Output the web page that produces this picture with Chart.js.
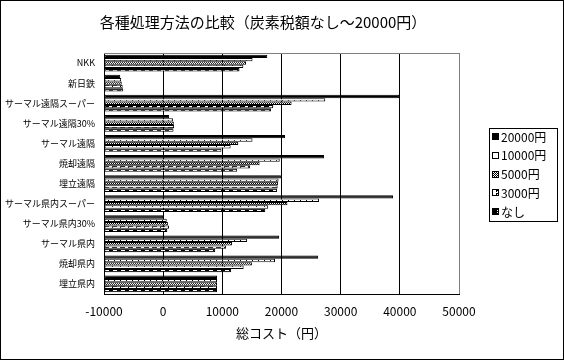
<!DOCTYPE html>
<html>
<head>
<meta charset="utf-8">
<script src="https://cdn.jsdelivr.net/npm/chart.js@4/dist/chart.umd.min.js"></script>
<style>
  html, body { margin: 0; padding: 0; background: #fff; }
  canvas { display: block; }
</style>
</head>
<body>
<canvas id="costChart" width="564" height="360"></canvas>
<script>
    const categories = ['NKK', '新日鉄', 'サーマル遠隔スーパー', 'サーマル遠隔30%', 'サーマル遠隔', '焼却遠隔', '埋立遠隔',
      'サーマル県内スーパー', 'サーマル県内30%', 'サーマル県内', '焼却県内', '埋立県内'];
    const seriesNames = ['20000円', '10000円', '5000円', '3000円', 'なし'];
    const tax20000 = [17600, -7250, 39900, 1000, 20600, 27200, 19900, 38850, 0, 19600, 26200, 9100];
    const tax10000 = [15100, -7100, 27400, 1650, 15100, 19700, 19500, 26350, 600, 14200, 18900, 9100];
    const tax5000 = [14000, -7000, 21700, 1800, 12700, 16300, 19400, 21000, 800, 11650, 15000, 9100];
    const tax3000 = [13550, -6850, 18600, 1850, 11400, 14700, 19350, 17750, 1000, 10650, 13600, 9100];
    const taxNone = [12900, -6750, 18250, 1750, 9850, 12500, 19250, 17250, 700, 8800, 11500, 9100];
    const xTicks = [-10000, 0, 10000, 20000, 30000, 40000, 50000];

    const jpFont = '"Noto Sans CJK JP", "DejaVu Sans", sans-serif';

    // small bitmap-like fills, like the old Excel patterns
    function makePattern(w, h, bg, fg, pixels) {
      const c = document.createElement('canvas');
      c.width = w; c.height = h;
      const g = c.getContext('2d');
      g.fillStyle = bg;
      g.fillRect(0, 0, w, h);
      g.fillStyle = fg;
      pixels.forEach(p => g.fillRect(p[0], p[1], p[2], p[3]));
      return g.createPattern(c, 'repeat');
    }

    const fills = [
      '#000000',
      makePattern(6, 2, '#ffffff', '#000000', [[0, 0, 1, 1]]),
      makePattern(2, 2, '#ffffff', '#000000', [[0, 0, 1, 1], [1, 1, 1, 1]]),
      makePattern(8, 3, '#ffffff', '#000000', [[0, 1, 5, 1], [0, 2, 1, 1]]),
      makePattern(8, 2, '#000000', '#ffffff', [[1, 0, 4, 1]])
    ];
    const seriesData = [tax20000, tax10000, tax5000, tax3000, taxNone];

    const frame = {
      id: 'frame',
      beforeDraw(chart) {
        const ctx = chart.ctx;
        ctx.save();
        ctx.fillStyle = '#ffffff';
        ctx.fillRect(0, 0, chart.width, chart.height);
        ctx.restore();
      },
      afterDraw(chart) {
        const ctx = chart.ctx;
        const a = chart.chartArea;
        ctx.save();
        ctx.lineWidth = 1;
        ctx.strokeStyle = '#808080';
        ctx.beginPath();
        ctx.moveTo(a.left, a.top + 0.5);
        ctx.lineTo(a.right, a.top + 0.5);
        ctx.stroke();
        ctx.strokeStyle = '#000000';
        ctx.strokeRect(0.5, 0.5, chart.width - 1, chart.height - 1);

        // legend box
        const lx = 489, ly = 128, lw = 68, lh = 93;
        ctx.strokeRect(lx + 0.5, ly + 0.5, lw, lh);
        ctx.font = '12px ' + jpFont;
        ctx.textBaseline = 'middle';
        ctx.textAlign = 'left';
        seriesNames.forEach((name, i) => {
          const cy = 137 + i * 18.75;
          ctx.fillStyle = fills[i];
          ctx.fillRect(492, Math.round(cy) - 4, 7, 7);
          ctx.strokeStyle = '#000000';
          ctx.strokeRect(492.5, Math.round(cy) - 3.5, 6, 6);
          ctx.fillStyle = '#000000';
          ctx.fillText(name, 501, cy);
        });
        ctx.restore();
      }
    };

    const costChart = new Chart(document.getElementById('costChart'), {
      type: 'bar',
      data: {
        labels: categories,
        datasets: seriesNames.map((name, i) => ({
          label: name,
          data: seriesData[i],
          base: -10000,
          backgroundColor: fills[i],
          borderColor: '#000000',
          borderWidth: 1,
          borderSkipped: false,
          categoryPercentage: 0.83,
          barPercentage: 1.0
        }))
      },
      options: {
        indexAxis: 'y',
        responsive: false,
        animation: false,
        layout: { padding: { left: 0, right: 38, top: 0, bottom: 0 } },
        plugins: {
          legend: { display: false },
          tooltip: { enabled: false },
          title: {
            display: true,
            text: '各種処理方法の比較（炭素税額なし～20000円）',
            color: '#000000',
            font: { family: jpFont, size: 15, weight: 'normal' },
            padding: { top: 13, bottom: 22 }
          }
        },
        scales: {
          x: {
            min: -10000,
            max: 50000,
            afterBuildTicks(scale) { scale.ticks = xTicks.map(v => ({ value: v })); },
            afterFit(scale) { scale.height = 66; },
            grid: {
              color: ctx => (ctx.tick && ctx.tick.value === 50000 ? '#808080' : '#000000'),
              drawTicks: false
            },
            border: { display: true, color: '#000000' },
            ticks: {
              color: '#000000',
              padding: 10,
              font: { family: jpFont, size: 12 },
              callback: value => String(value)
            },
            title: {
              display: true,
              text: '総コスト（円）',
              color: '#000000',
              font: { family: jpFont, size: 13 },
              padding: { top: 0, bottom: 19 }
            }
          },
          y: {
            afterFit(scale) { scale.width = 104; },
            grid: { display: false, drawTicks: false },
            border: { display: true, color: '#000000' },
            ticks: {
              color: '#000000',
              padding: 9,
              autoSkip: false,
              font: { family: jpFont, size: 9 }
            }
          },
          // spacer on the right that leaves room for the legend box
          yRight: {
            position: 'right',
            type: 'category',
            labels: categories,
            afterFit(scale) { scale.width = 67; },
            grid: { display: false },
            border: { display: false },
            ticks: { display: false }
          }
        }
      },
      plugins: [frame]
    });
</script>
</body>
</html>
